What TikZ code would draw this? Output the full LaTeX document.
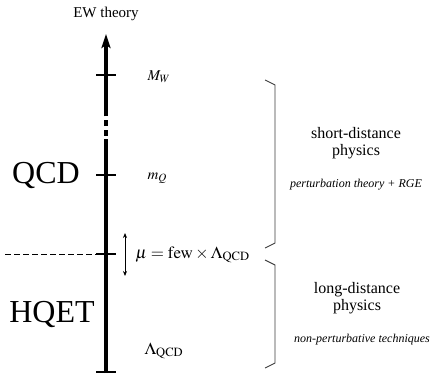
\documentclass[tikz,border=0pt]{standalone}
\usepackage{mathptmx}
\usepackage{fontspec}
\setmainfont{Liberation Serif}
\usetikzlibrary{arrows.meta, positioning, calc}
\definecolor{scalegray}{RGB}{60,60,60}

\begin{document}
\begin{tikzpicture}[x=1pt, y=-1pt,
    axis/.style={line width=3.4pt, color=black},
    tick/.style={line width=1.4pt},
    mark label/.style={font=\fontsize{15}{17}\selectfont, anchor=west},
    theory/.style={font=\fontsize{32}{34}\selectfont},
    region/.style={align=center, font=\fontsize{16}{17}\selectfont},
    method/.style={font=\fontsize{12}{14}\selectfont\itshape},
    bracket/.style={line width=0.9pt, color=scalegray}
]
\useasboundingbox (0,0) rectangle (435,374);
% energy axis
\coordinate (bot) at (106,373);
\coordinate (gapl) at (106,145);
\coordinate (gaph) at (106,110);
\coordinate (top) at (106,34);
\node (ew) at (106,14) {\fontsize{15}{17}\selectfont EW theory};
\draw[axis] (bot) -- (gapl);
\draw[axis, dash pattern=on 6pt off 3.5pt] (gapl) -- (gaph);
\draw[axis, -{Stealth[length=14pt, width=9pt, inset=3pt]}] (gaph) -- (top);
% scales
\node[mark label] (mw) at (144,77) {$M_W$};
\node[mark label] (mq) at (144,178) {$m_Q$};
\node[mark label] (mu) at (132,255) {\fontsize{17}{19}\selectfont$\mu = \mathrm{few}\times\Lambda_{\mathrm{QCD}}$};
\node[mark label] (lam) at (141,351) {\fontsize{17}{19}\selectfont$\Lambda_{\mathrm{QCD}}$};
\foreach \y in {75,175,254,372}
  \draw[tick] (96,\y) -- (116,\y);
\draw[dash pattern=on 6pt off 3pt, line width=1pt] (5,254) -- (96,254);
\draw[{Stealth[length=5pt, width=4pt]}-{Stealth[length=5pt, width=4pt]}, line width=0.8pt] (125,233) -- (125,276);
% theories
\node[theory] (qcd) at (46,175) {QCD};
\node[theory] (hqet) at (52,314) {HQET};
% regions
\draw[bracket] (265,80) -- (275,85) -- (275,243) -- (265,248);
\node[region] (short) at (356,143) {short-distance\\physics};
\node[method] (pert) at (356,185) {perturbation theory + RGE};
\draw[bracket] (265,260) -- (275,265) -- (275,363) -- (265,368);
\node[region] (long) at (357,298) {long-distance\\physics};
\node[method] (nonpert) at (362,340) {non-perturbative techniques};
\end{tikzpicture}
\end{document}
